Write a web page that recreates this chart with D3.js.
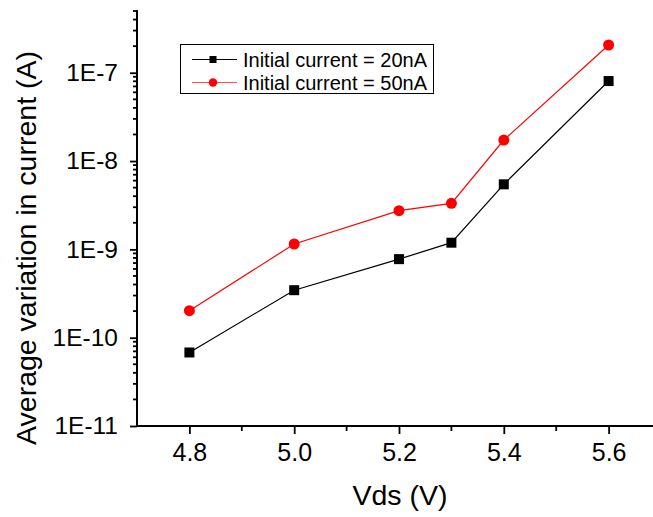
<html>
<body style="margin:0;background:#fff">
<div id="chart"></div>
<script src="https://cdn.jsdelivr.net/npm/d3@7"></script>
<script>
// values
var vds = [4.8, 5.0, 5.2, 5.3, 5.4, 5.6];
var cur20 = [6.8e-11, 3.45e-10, 7.75e-10, 1.19e-9, 5.45e-9, 8.05e-8];
var cur50 = [2.02e-10, 1.15e-9, 2.74e-9, 3.32e-9, 1.73e-8, 2.06e-7];
var xTicks = [4.8, 5.0, 5.2, 5.4, 5.6];
var xMinor = [4.9, 5.1, 5.3, 5.5];
var yTicks = [1e-11, 1e-10, 1e-9, 1e-8, 1e-7];
var yLabels = ["1E-11", "1E-10", "1E-9", "1E-8", "1E-7"];
var legendNames = ["Initial current = 20nA", "Initial current = 50nA"];

var W = 653, H = 517;
var font = "Liberation Sans, Arial, sans-serif";
var svg = d3.select("#chart").append("svg")
  .attr("width", W).attr("height", H)
  .style("font-family", font);

var x = d3.scaleLinear().domain([4.7, 5.7]).range([137, 661]);
var y = d3.scaleLog().domain([1e-11, 5e-7]).range([426, 11]);

// minor log ticks
var yMinor = [];
for (var e = -11; e <= -7; e++) {
  for (var m = 2; m <= 9; m++) {
    var v = m * Math.pow(10, e);
    if (v <= 5e-7) yMinor.push(v);
  }
}

// x axis
var gx = svg.append("g").attr("transform", "translate(0,426)");
gx.call(d3.axisBottom(x).tickValues(xTicks).tickSize(8).tickPadding(9)
  .tickFormat(d3.format(".1f")));
gx.selectAll(".minor").data(xMinor).enter().append("line")
  .attr("x1", function (d) { return x(d); }).attr("x2", function (d) { return x(d); })
  .attr("y1", 0).attr("y2", 5).attr("stroke", "#000").attr("stroke-width", 1.8);
gx.select(".domain").attr("d", "M137,0H653").attr("stroke-width", 2);
gx.selectAll(".tick line").attr("stroke-width", 1.8);
gx.selectAll(".tick text").style("font-size", "25px").style("font-family", font).attr("fill", "#000");

// y axis
var gy = svg.append("g").attr("transform", "translate(137,0)");
gy.call(d3.axisLeft(y).tickValues(yTicks).tickSize(7).tickPadding(12)
  .tickFormat(function (d, i) { return yLabels[i]; }));
gy.selectAll(".minor").data(yMinor).enter().append("line")
  .attr("y1", function (d) { return y(d); }).attr("y2", function (d) { return y(d); })
  .attr("x1", 0).attr("x2", -4).attr("stroke", "#000").attr("stroke-width", 1.8);
gy.select(".domain").attr("d", "M0,10V426").attr("stroke-width", 2);
gy.selectAll(".tick line").attr("stroke-width", 1.8);
gy.selectAll(".tick text").style("font-size", "24.5px").style("font-family", font).attr("fill", "#000");

// axis titles
svg.append("text").attr("x", 400).attr("y", 505).attr("text-anchor", "middle")
  .style("font-size", "28.5px").text("Vds (V)");
svg.append("text").attr("transform", "translate(36,248) rotate(-90)")
  .attr("text-anchor", "middle").style("font-size", "28.5px")
  .text("Average variation in current (A)");

// series
var line = d3.line().x(function (d) { return x(d[0]); }).y(function (d) { return y(d[1]); });
var s20 = vds.map(function (v, i) { return [v, cur20[i]]; });
var s50 = vds.map(function (v, i) { return [v, cur50[i]]; });

svg.append("path").datum(s20).attr("d", line).attr("fill", "none")
  .attr("stroke", "#000").attr("stroke-width", 1.2);
svg.append("path").datum(s50).attr("d", line).attr("fill", "none")
  .attr("stroke", "#ff0000").attr("stroke-width", 1.2);

svg.selectAll(".sq").data(s20).enter().append("rect")
  .attr("x", function (d) { return x(d[0]) - 5; })
  .attr("y", function (d) { return y(d[1]) - 5; })
  .attr("width", 10).attr("height", 10).attr("fill", "#000");
svg.selectAll(".ci").data(s50).enter().append("circle")
  .attr("cx", function (d) { return x(d[0]); })
  .attr("cy", function (d) { return y(d[1]); })
  .attr("r", 5.5).attr("fill", "#ff0000");

// legend
var lg = svg.append("g");
lg.append("rect").attr("x", 180.5).attr("y", 44.5).attr("width", 253).attr("height", 49)
  .attr("fill", "#fff").attr("stroke", "#000").attr("stroke-width", 1);
var rows = [59.5, 82.5];
lg.append("line").attr("x1", 192).attr("x2", 237).attr("y1", rows[0]).attr("y2", rows[0])
  .attr("stroke", "#000").attr("stroke-width", 1.2);
lg.append("rect").attr("x", 209.5).attr("y", rows[0] - 3.5).attr("width", 7).attr("height", 7)
  .attr("fill", "#000");
lg.append("line").attr("x1", 192).attr("x2", 237).attr("y1", rows[1]).attr("y2", rows[1])
  .attr("stroke", "#ff0000").attr("stroke-width", 1.2).attr("stroke-opacity", 0.7);
lg.append("circle").attr("cx", 213).attr("cy", rows[1]).attr("r", 4.2).attr("fill", "#ff0000");
lg.selectAll(".lt").data(legendNames).enter().append("text")
  .attr("x", 243).attr("y", function (d, i) { return rows[i] + 7.3; })
  .style("font-size", "20px").text(function (d) { return d; });
</script>
</body>
</html>
